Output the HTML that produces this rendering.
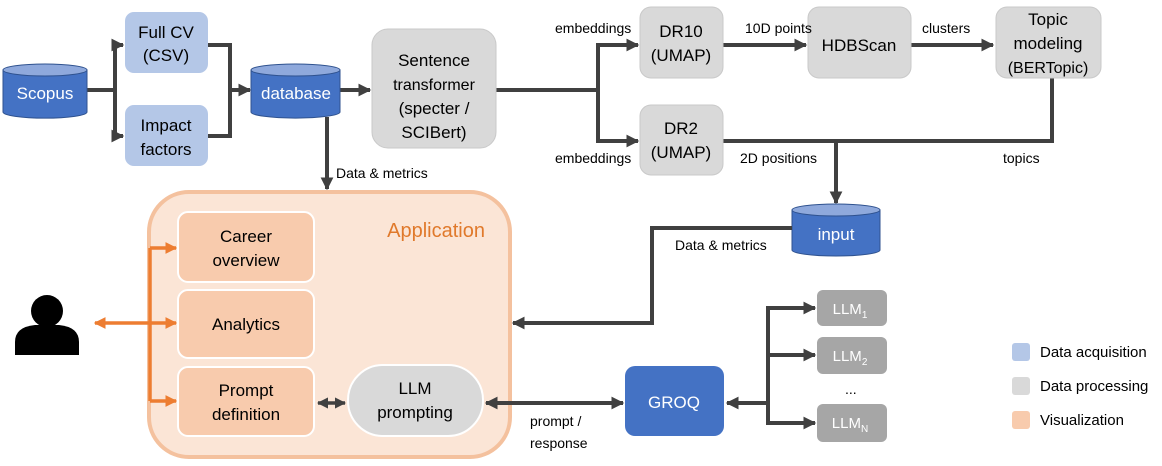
<!DOCTYPE html>
<html><head><meta charset="utf-8"><style>
html,body{margin:0;padding:0;background:#fff;}
svg{display:block;font-family:"Liberation Sans",sans-serif;}
</style></head><body>
<svg width="1162" height="466" viewBox="0 0 1162 466" xmlns="http://www.w3.org/2000/svg">
<defs>
<marker id="a" viewBox="0 0 10 10" refX="9" refY="5" markerWidth="3.2" markerHeight="3.2" orient="auto-start-reverse"><path d="M0,0L10,5L0,10z" fill="#404040"/></marker>
<marker id="o" viewBox="0 0 10 10" refX="9" refY="5" markerWidth="3.4" markerHeight="3.4" orient="auto-start-reverse"><path d="M0,0L10,5L0,10z" fill="#ed7d31"/></marker>
</defs>
<g fill="none" stroke="#404040" stroke-width="4">
<path d="M87,90H115V45H123" marker-end="url(#a)"/>
<path d="M115,90V136H123" marker-end="url(#a)"/>
<path d="M208,45H230V136H208"/>
<path d="M230,90H250" marker-end="url(#a)"/>
<path d="M340,90H370" marker-end="url(#a)"/>
<path d="M327,117V189" marker-end="url(#a)"/>
<path d="M496,90H598V45H638" marker-end="url(#a)"/>
<path d="M598,90V141H638" marker-end="url(#a)"/>
<path d="M723,45H806" marker-end="url(#a)"/>
<path d="M911,45H993" marker-end="url(#a)"/>
<path d="M1052,78V141H723"/>
<path d="M836,141V203" marker-end="url(#a)"/>
<path d="M727,403H768"  marker-start="url(#a)"/>
<path d="M768,403V308H815" marker-end="url(#a)"/>
<path d="M768,355H815" marker-end="url(#a)"/>
<path d="M768,403V423H815" marker-end="url(#a)"/>
</g>
<g>
<path d="M3,70V112A41,6 0 0 0 87,112V70Z" fill="#4472c4" stroke="#2f528f" stroke-width="1"/>
<ellipse cx="45" cy="70" rx="42" ry="6" fill="#8fa9dc" stroke="#2f528f"/>
<path d="M251,70V112A44,6 0 0 0 340,112V70Z" fill="#4472c4" stroke="#2f528f"/>
<ellipse cx="295.5" cy="70" rx="44.5" ry="6" fill="#8fa9dc" stroke="#2f528f"/>
<path d="M792,210V250A44,6 0 0 0 880,250V210Z" fill="#4472c4" stroke="#2f528f"/>
<ellipse cx="836" cy="210" rx="44" ry="6" fill="#8fa9dc" stroke="#2f528f"/>
</g>
<rect x="125" y="12" width="83" height="61" rx="9" fill="#b4c7e7"/>
<rect x="125" y="105" width="83" height="61" rx="9" fill="#b4c7e7"/>
<g fill="#d9d9d9" stroke="#c9c9c9">
<rect x="372" y="29" width="124" height="119" rx="16"/>
<rect x="640" y="7" width="83" height="71" rx="11"/>
<rect x="640" y="105" width="83" height="70" rx="11"/>
<rect x="808" y="7" width="103" height="71" rx="11"/>
<rect x="996" y="7" width="105" height="71" rx="11"/>
</g>
<rect x="149" y="192" width="361" height="265" rx="40" fill="#fbe5d6" stroke="#f4c19e" stroke-width="4"/>
<g fill="#f8cbad" stroke="#fff" stroke-width="2">
<rect x="178" y="212" width="136" height="70" rx="10"/>
<rect x="178" y="290" width="136" height="68" rx="10"/>
<rect x="178" y="367" width="136" height="69" rx="10"/>
</g>
<rect x="348" y="365" width="135" height="71" rx="35" fill="#d9d9d9" stroke="#fff" stroke-width="2"/>
<g fill="none" stroke="#404040" stroke-width="4">
<path d="M792,228H652V323H513" marker-end="url(#a)"/>
<path d="M486,403H623" marker-start="url(#a)" marker-end="url(#a)"/>
<path d="M318,403H345" marker-start="url(#a)" marker-end="url(#a)" stroke-width="3.5"/>
</g>
<g fill="none" stroke="#ed7d31" stroke-width="3.5">
<path d="M150,248H176" marker-end="url(#o)"/>
<path d="M150,401H176" marker-end="url(#o)"/>
<path d="M150,248V401"/>
<path d="M95,323H176" marker-start="url(#o)" marker-end="url(#o)"/>
</g>
<circle cx="47" cy="311" r="16" fill="#000"/>
<path d="M15,355V342Q15,327 35,325H59Q79,327 79,342V355Z" fill="#000"/>
<rect x="625" y="366" width="99" height="70" rx="10" fill="#4472c4"/>
<g fill="#a6a6a6">
<rect x="817" y="290" width="70" height="36" rx="6"/>
<rect x="817" y="337" width="70" height="37" rx="6"/>
<rect x="817" y="404" width="70" height="38" rx="6"/>
</g>
<rect x="1012" y="343" width="18" height="18" rx="3" fill="#b4c7e7"/>
<rect x="1012" y="377" width="18" height="18" rx="3" fill="#d9d9d9"/>
<rect x="1012" y="411" width="18" height="18" rx="3" fill="#f8cbad"/>
<g font-size="17" text-anchor="middle" fill="#fff">
<text x="45" y="99">Scopus</text>
<text x="296" y="99">database</text>
<text x="836" y="240">input</text>
<text x="674" y="408">GROQ</text>
</g>
<g font-size="15" text-anchor="middle" fill="#fff">
<text x="850" y="314">LLM<tspan font-size="10" dy="4">1</tspan></text>
<text x="850" y="361">LLM<tspan font-size="10" dy="4">2</tspan></text>
<text x="850" y="428">LLM<tspan font-size="10" dy="4">N</tspan></text>
</g>
<g font-size="17" text-anchor="middle" fill="#000">
<text x="166" y="38">Full CV</text><text x="166" y="61">(CSV)</text>
<text x="166" y="131">Impact</text><text x="166" y="155">factors</text>
<text x="434" y="66">Sentence</text><text x="434" y="90" font-size="16">transformer</text><text x="434" y="114">(specter /</text><text x="434" y="138">SCIBert)</text>
<text x="681" y="37">DR10</text><text x="681" y="61">(UMAP)</text>
<text x="681" y="134">DR2</text><text x="681" y="158">(UMAP)</text>
<text x="859" y="51">HDBScan</text>
<text x="1048" y="25">Topic</text><text x="1048" y="49">modeling</text><text x="1048" y="73" font-size="16">(BERTopic)</text>
<text x="246" y="242">Career</text><text x="246" y="266">overview</text>
<text x="246" y="330">Analytics</text>
<text x="246" y="396">Prompt</text><text x="246" y="420">definition</text>
<text x="415" y="394">LLM</text><text x="415" y="418">prompting</text>
</g>
<g font-size="14" fill="#000">
<text x="555" y="33">embeddings</text>
<text x="555" y="163">embeddings</text>
<text x="745" y="33">10D points</text>
<text x="922" y="33">clusters</text>
<text x="740" y="163">2D positions</text>
<text x="1003" y="163">topics</text>
<text x="336" y="178">Data &amp; metrics</text>
<text x="675" y="250">Data &amp; metrics</text>
<text x="530" y="426">prompt /</text>
<text x="530" y="448">response</text>
<text x="845" y="394">...</text>
<text x="1040" y="357" font-size="15">Data acquisition</text>
<text x="1040" y="391" font-size="15">Data processing</text>
<text x="1040" y="425" font-size="15">Visualization</text>
</g>
<text x="485" y="237" font-size="20" fill="#e0792b" text-anchor="end">Application</text>
</svg>
</body></html>
